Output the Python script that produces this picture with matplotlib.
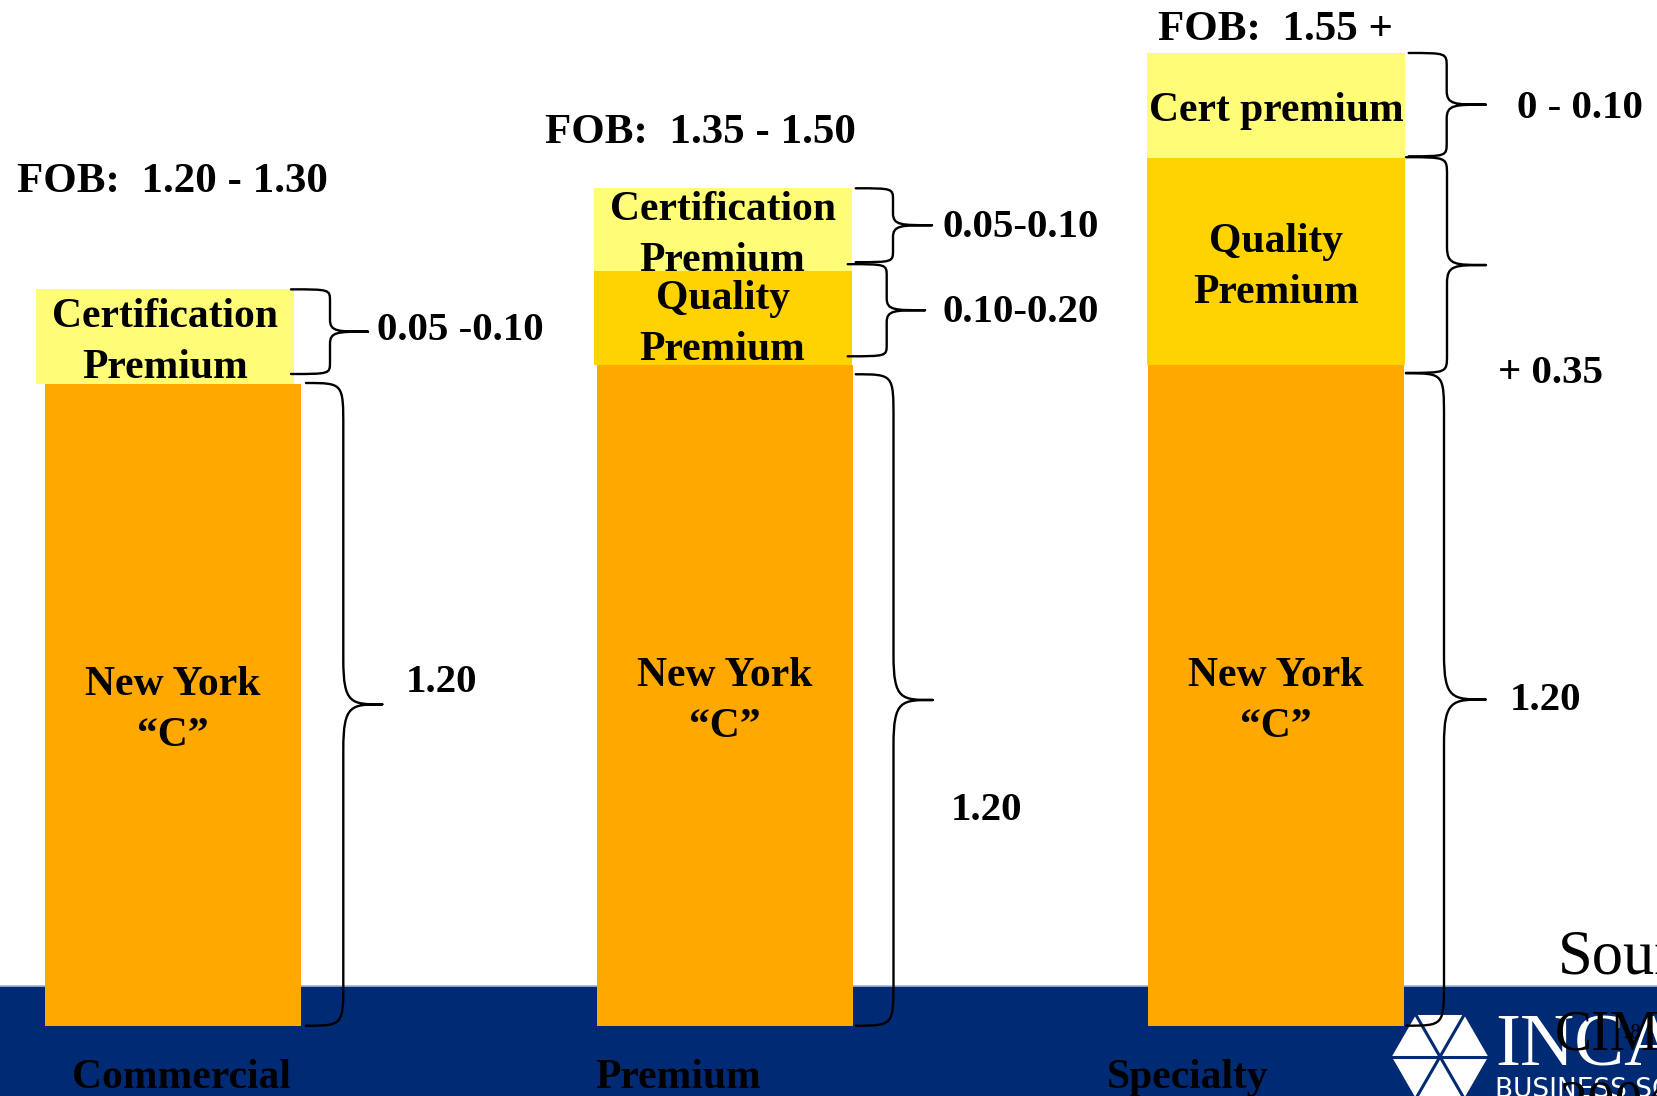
import numpy as np
import matplotlib
matplotlib.use('Agg')
import matplotlib.pyplot as plt
from matplotlib.path import Path
from matplotlib.patches import PathPatch, Polygon

plt.rcParams['font.family'] = ['Liberation Serif', 'DejaVu Serif']

# --- data (slide is schematic, heights as drawn; New York "C" = 1.20) ---
categories = ['Commercial', 'Premium', 'Specialty']
fob_labels = ['FOB:  1.20 - 1.30', 'FOB:  1.35 - 1.50', 'FOB:  1.55 +']

base_h = [1.20, 1.235, 1.235]
quality_h = [0.0, 0.176, 0.388]
cert_h = [0.177, 0.155, 0.196]

base_text = ['New York\n\u201cC\u201d'] * 3
quality_text = ['', 'Quality\nPremium', 'Quality\nPremium']
cert_text = ['Certification\nPremium', 'Certification\nPremium', 'Cert premium']

cert_range = ['0.05 -0.10', '0.05-0.10', '0 - 0.10']
quality_range = ['', '0.10-0.20', '+ 0.35']
base_value = ['1.20', '1.20', '1.20']

# colours
ORANGE = '#FFA800'
GOLD = '#FFD300'
LIGHT = '#FFFC78'
NAVY = '#002A73'

# --- pixel <-> data helpers (slide layout) ---
X0, SX = 173.0, 551.5      # px of category 0, px per category
Y0, SY = 1025.7, 534.75    # px of bar bottom, px per unit


def dx(px):
    return (px - X0) / SX


def dy(py):
    return (Y0 - py) / SY


def py(v):
    return Y0 - v * SY


fig = plt.figure(figsize=(16.58, 10.96), dpi=100)
ax = fig.add_axes([0, 0, 1, 1])
ax.set_xlim(dx(0), dx(1658))
ax.set_ylim(dy(1096), dy(0))
ax.axis('off')

# navy footer band
ax.axhspan(dy(1096), dy(986), color=NAVY, zorder=0, lw=0)
ax.axhline(dy(985.5), color='#A9B3CB', lw=1.2, zorder=0)

x = np.arange(len(categories))
base_h = np.array(base_h)
quality_h = np.array(quality_h)
cert_h = np.array(cert_h)

bar_w = 256 / SX
seg_w = 258 / SX
seg_shift = np.array([-8, -2, 0]) / SX

ax.bar(x, base_h, width=bar_w, color=ORANGE, zorder=2, lw=0)
ax.bar(x + seg_shift, quality_h, bottom=base_h, width=seg_w, color=GOLD, zorder=2, lw=0)
ax.bar(x + seg_shift, cert_h, bottom=base_h + quality_h, width=seg_w, color=LIGHT, zorder=2, lw=0)


def seg_label(xc, lo, hi, s, size=30):
    c = (py(lo) + py(hi)) / 2
    lines = s.split('\n')
    bases = [c + 16] if len(lines) == 1 else [c - 9.5, c + 41.5]
    for line, b in zip(lines, bases):
        ax.text(xc, dy(b), line, ha='center', va='baseline', fontsize=size,
                fontweight='bold', zorder=4)


for i in range(len(categories)):
    seg_label(x[i], 0, base_h[i], base_text[i])
    if quality_h[i] > 0:
        seg_label(x[i] + seg_shift[i], base_h[i], base_h[i] + quality_h[i], quality_text[i])
    top0 = base_h[i] + quality_h[i]
    seg_label(x[i] + seg_shift[i], top0, top0 + cert_h[i], cert_text[i])


def brace(xa, xs, xt, yt, yb, r):
    ym = (yt + yb) / 2
    d = xt - xs
    pts = [(xa, yt), (xs, yt), (xs, yt), (xs, yt + r),
           (xs, ym - r),
           (xs, ym), (xs + 0.2 * d, ym), (xt, ym),
           (xs + 0.2 * d, ym), (xs, ym), (xs, ym + r),
           (xs, yb - r),
           (xs, yb), (xs, yb), (xa, yb)]
    codes = [Path.MOVETO, Path.CURVE4, Path.CURVE4, Path.CURVE4,
             Path.LINETO,
             Path.CURVE4, Path.CURVE4, Path.CURVE4,
             Path.CURVE4, Path.CURVE4, Path.CURVE4,
             Path.LINETO,
             Path.CURVE4, Path.CURVE4, Path.CURVE4]
    verts = [(dx(a), dy(b)) for a, b in pts]
    ax.add_patch(PathPatch(Path(verts, codes), fill=False, ec='black', lw=1.7,
                           capstyle='round', joinstyle='round', zorder=3))


# brace layout in px: (arm x, spine x, tip x), insets top/bottom, corner size
cert_brace = [(291, 330, 368, 0, 10, 12), (855.7, 893, 932, 0, 9, 12),
              (1408.7, 1446.7, 1485.7, 0, 1.5, 14)]
qual_brace = [None, (847.7, 886.7, 925, -7, 9, 12), (1406, 1447, 1486, -0.6, -7.6, 18)]
base_brace = [(306, 343.3, 382.3, -1, 0, 45), (855.7, 893.5, 932.6, 9, 0, 45),
              (1406, 1444, 1485.6, 8, 0, 45)]

for i in range(len(categories)):
    top0 = base_h[i] + quality_h[i]
    xa, xs, xt, it, ib, r = cert_brace[i]
    brace(xa, xs, xt, py(top0 + cert_h[i]) + it, py(top0) - ib, r)
    if qual_brace[i] is not None:
        xa, xs, xt, it, ib, r = qual_brace[i]
        brace(xa, xs, xt, py(top0) + it, py(base_h[i]) - ib, r)
    xa, xs, xt, it, ib, r = base_brace[i]
    brace(xa, xs, xt, py(base_h[i]) + it, py(0) - ib, r)

# range labels (px layout: left x, baseline)
cert_pos = [(376.7, 340), (943, 236.7), (1516.7, 118.3)]
qual_pos = [None, (943, 321.7), (1498, 383.3)]
base_pos = [(406, 691.7), (951, 820), (1510, 710)]
for i in range(len(categories)):
    ax.text(dx(cert_pos[i][0]), dy(cert_pos[i][1]), cert_range[i], fontsize=29.5,
            fontweight='bold', va='baseline', ha='left', zorder=4)
    if qual_pos[i] is not None:
        ax.text(dx(qual_pos[i][0]), dy(qual_pos[i][1]), quality_range[i], fontsize=29.5,
                fontweight='bold', va='baseline', ha='left', zorder=4)
    ax.text(dx(base_pos[i][0]), dy(base_pos[i][1]), base_value[i], fontsize=29.5,
            fontweight='bold', va='baseline', ha='left', zorder=4)

# FOB headings
fob_pos = [(16.7, 191.7), (545, 142.7), (1158, 40)]
for (fx, fy), s in zip(fob_pos, fob_labels):
    ax.text(dx(fx), dy(fy), s, fontsize=31, fontweight='bold', va='baseline', ha='left', zorder=4)

# category names on the footer
cat_pos = [(71.7, 1087.7), (595, 1087.7), (1106.7, 1087.7)]
for (cx, cy), s in zip(cat_pos, categories):
    ax.text(dx(cx), dy(cy), s, fontsize=30, fontweight='bold', va='baseline', ha='left', zorder=4)

# INCAE logo
hx, hy, R = 1440, 1056.7, 48.2
ang = np.radians(np.arange(0, 360, 60))
hexv = [(dx(hx + R * np.cos(a)), dy(hy - R * np.sin(a))) for a in ang]
ax.add_patch(Polygon(hexv, closed=True, fc='white', ec='none', zorder=2))
for a in np.radians([0, 60, 120]):
    ax.plot([dx(hx - R * np.cos(a)), dx(hx + R * np.cos(a))],
            [dy(hy + R * np.sin(a)), dy(hy - R * np.sin(a))],
            color=NAVY, lw=2.2, zorder=2.5)
ax.text(dx(1495), dy(1065), 'INCAE', color='white', fontsize=54, va='baseline', ha='left', zorder=2)
ax.text(dx(1495), dy(1077), 'BUSINESS SCHOOL', color='white', fontsize=19,
        family='DejaVu Sans', va='top', ha='left', zorder=2)

# source note (runs off the slide)
ax.text(dx(1558), dy(973), 'Source:', fontsize=45, va='baseline', ha='left', zorder=4)
ax.text(dx(1555), dy(1050), 'CIMS', fontsize=40, va='baseline', ha='left', zorder=4)
ax.text(dx(1620), dy(1038), '18', fontsize=15, va='baseline', ha='left', zorder=4)
ax.text(dx(1560), dy(1120), '2004', fontsize=40, va='baseline', ha='left', zorder=4)

fig.savefig('out.png', dpi=100)
